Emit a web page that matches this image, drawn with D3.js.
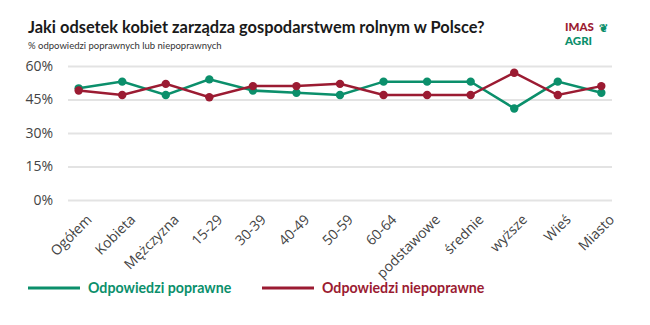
<!DOCTYPE html>
<html>
<head>
<meta charset="utf-8">
<script src="https://cdn.jsdelivr.net/npm/d3@7"></script>
<style>
  body { margin: 0; background: #fff; }
  .grid line { stroke: #e3e3e3; stroke-width: 2; }
  .grid path { display: none; }
  .axis text { font-family: 'Open Sans', sans-serif; fill: #444; }
  .axis path, .axis line { display: none; }
</style>
</head>
<body>
<div id="graph"></div>
<script>
// categories and values
var categories = ['Ogółem', 'Kobieta', 'Mężczyzna', '15-29', '30-39', '40-49', '50-59',
                  '60-64', 'podstawowe', 'średnie', 'wyższe', 'Wieś', 'Miasto'];
var correct    = [50, 53, 47, 54, 49, 48, 47, 53, 53, 53, 41, 53, 48];
var incorrect  = [49, 47, 52, 46, 51, 51, 52, 47, 47, 47, 57, 47, 51];
var yTicks     = [0, 15, 30, 45, 60];
var seriesNames = ['Odpowiedzi poprawne', 'Odpowiedzi niepoprawne'];
var colors = ['#0b8f6b', '#9b1b32'];

var margin = { top: 66, right: 38, bottom: 125, left: 68 };
var width  = 650 - margin.left - margin.right;
var height = 325 - margin.top - margin.bottom;

var root = d3.select('#graph')
             .append('svg')
             .attr('width', 650)
             .attr('height', 325);

// title block
root.append('text')
    .attr('x', 28).attr('y', 33)
    .style('font-family', 'Lato, sans-serif')
    .style('font-weight', 'bold')
    .style('font-size', '16.4px')
    .style('fill', '#1a1a1a')
    .text('Jaki odsetek kobiet zarządza gospodarstwem rolnym w Polsce?');

root.append('text')
    .attr('x', 28).attr('y', 49)
    .style('font-family', 'Lato, sans-serif')
    .style('font-size', '9.5px')
    .style('fill', '#333')
    .text('% odpowiedzi poprawnych lub niepoprawnych');

// logo
var logo = root.append('g').attr('transform', 'translate(565,0)')
               .style('font-family', 'Lato, sans-serif')
               .style('font-weight', '900')
               .style('font-size', '11.5px');
logo.append('text').attr('x', 0).attr('y', 31).style('fill', colors[1]).text('IMAS');
logo.append('text').attr('x', 0).attr('y', 45).style('fill', colors[0]).text('AGRI');
logo.append('text').attr('x', 34).attr('y', 32).style('fill', colors[0])
    .style('font-size', '11px').text('❦');

var svg = root.append('g')
              .attr('transform', 'translate(' + margin.left + ',' + margin.top + ')');

var xScale = d3.scalePoint()
               .domain(categories)
               .range([0, width])
               .padding(0.245);

var yScale = d3.scaleLinear()
               .domain([0, 60])
               .range([height, 0]);

// horizontal grid
svg.append('g')
   .attr('class', 'grid')
   .call(d3.axisLeft(yScale).tickValues(yTicks).tickSize(-width).tickFormat(''));

// y axis labels
svg.append('g')
   .attr('class', 'axis')
   .call(d3.axisLeft(yScale).tickValues(yTicks).tickSize(0).tickPadding(15)
           .tickFormat(function(d) { return d + '%'; }))
   .selectAll('text')
   .style('font-size', '14px');

// x axis labels, rotated
var xAxis = svg.append('g')
               .attr('class', 'axis')
               .attr('transform', 'translate(0,' + height + ')')
               .call(d3.axisBottom(xScale).tickSize(0).tickPadding(0));

xAxis.selectAll('text')
     .style('font-size', '14px')
     .style('text-anchor', 'end')
     .attr('dy', '0.35em')
     .attr('transform', 'translate(10,17) rotate(-45)');

// lines and points
var line = d3.line()
             .x(function(d, i) { return xScale(categories[i]); })
             .y(function(d) { return yScale(d); });

[correct, incorrect].forEach(function(series, k)
{
    svg.append('path')
       .datum(series)
       .attr('d', line)
       .style('fill', 'none')
       .style('stroke', colors[k])
       .style('stroke-width', 2.5);

    svg.selectAll('.pt' + k)
       .data(series)
       .enter()
       .append('circle')
       .attr('class', 'pt' + k)
       .attr('cx', function(d, i) { return xScale(categories[i]); })
       .attr('cy', function(d) { return yScale(d); })
       .attr('r', 4.2)
       .style('fill', colors[k]);
});

// legend
var legendX = [28, 262];
seriesNames.forEach(function(name, k)
{
    var g = root.append('g').attr('transform', 'translate(' + legendX[k] + ',288)');
    g.append('line')
     .attr('x1', 0).attr('x2', 52)
     .style('stroke', colors[k])
     .style('stroke-width', 3);
    g.append('text')
     .attr('x', 60).attr('y', 5)
     .style('font-family', 'Lato, sans-serif')
     .style('font-weight', 'bold')
     .style('font-size', '14.2px')
     .style('fill', colors[k])
     .text(name);
});
</script>
</body>
</html>
